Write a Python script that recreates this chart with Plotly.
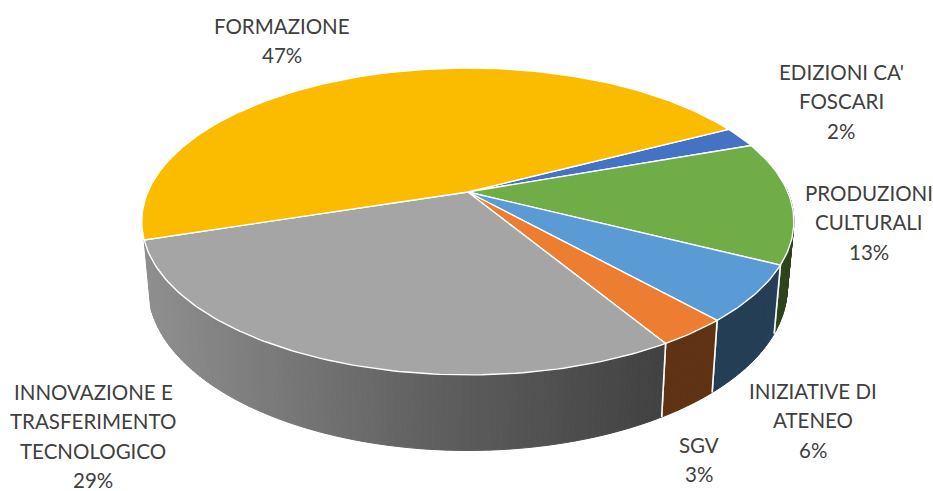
import math
import plotly.graph_objects as go

# ---- data ----
categories = ["EDIZIONI CA'", "PRODUZIONI CULTURALI", "INIZIATIVE DI ATENEO", "SGV",
              "INNOVAZIONE E TRASFERIMENTO TECNOLOGICO", "FORMAZIONE"]
values = [2.2, 12.9, 5.9, 3.0, 28.7, 47.3]
label_lines = [["EDIZIONI CA'", "FOSCARI"], ["PRODUZIONI", "CULTURALI"], ["INIZIATIVE DI", "ATENEO"],
               ["SGV"], ["INNOVAZIONE E", "TRASFERIMENTO", "TECNOLOGICO"], ["FORMAZIONE"]]
colors = ["#4472C4", "#70AD47", "#5B9BD5", "#ED7D31", "#A5A5A5", "#FBBC00"]

# ---- style / layout ----
label_anchor = [(841, 72), (869, 193), (813, 391), (699, 445), (93, 392), (282, 26)]
line_step = 29.3
START = -27.5
CX, CY = 467.8, 192.0
A, B, K = 147.8, 320.0, -0.192
S, C = 0.98, 64.0
TEXT = "#404040"
FONT = "Lato"
FSIZE = 20.5


def top(deg):
    t = math.radians(deg)
    u, v = math.cos(t), math.sin(t)
    w = 1 + K * v
    return CX + B * u / w, CY + A * v / w


def bottom(deg):
    t = math.radians(deg)
    u, v = math.cos(t), math.sin(t)
    w = 1 + K * v
    return CX + S * B * u / w, CY + S * A * v / w + C / w


def shade(x):
    pts = [(150, 0.86), (430, 0.58), (660, 0.40)]
    if x <= pts[0][0]:
        return pts[0][1]
    if x >= pts[-1][0]:
        return pts[-1][1]
    for (x0, f0), (x1, f1) in zip(pts, pts[1:]):
        if x <= x1:
            return f0 + (f1 - f0) * (x - x0) / (x1 - x0)


def dim(hexc, f):
    r, g, b = (int(hexc[i:i + 2], 16) for i in (1, 3, 5))
    return f"rgb({round(r * f)},{round(g * f)},{round(b * f)})"


def poly(xs, ys, fill, line_color, line_width):
    return go.Scatter(x=xs, y=ys, mode="lines", fill="toself", fillcolor=fill,
                      line=dict(color=line_color, width=line_width), hoverinfo="skip", showlegend=False)


fig = go.Figure()
total = sum(values)
angles = [START]
for val in values:
    angles.append(angles[-1] + val / total * 360)

# side walls (only the front part can be seen; the rim ends where the grey slice ends)
for i, col in enumerate(colors):
    a0, a1 = angles[i], angles[i + 1]
    if a0 > 150:
        continue
    lo, hi = max(a0, -2), min(a1, 180)
    if hi <= lo:
        continue
    n = max(2, int((hi - lo) / 1.0))
    for j in range(n):
        p, q = lo + (hi - lo) * j / n, lo + (hi - lo) * (j + 1) / n
        tp, tq, bq, bp = top(p), top(q), bottom(q), bottom(p)
        c = dim(col, shade((tp[0] + tq[0]) / 2))
        fig.add_trace(poly([tp[0], tq[0], bq[0], bp[0], tp[0]], [tp[1], tq[1], bq[1], bp[1], tp[1]], c, c, 1))
    # white seam at the slice ends
    for ang in (a0, a1):
        if 0 <= ang <= 158:
            t, b = top(ang), bottom(ang)
            fig.add_trace(go.Scatter(x=[t[0], b[0]], y=[t[1], b[1]], mode="lines",
                                     line=dict(color="white", width=1.6), hoverinfo="skip", showlegend=False))

# top faces
for i, col in enumerate(colors):
    a0, a1 = angles[i], angles[i + 1]
    n = max(4, int((a1 - a0) / 1.0))
    xs, ys = [CX], [CY]
    for j in range(n + 1):
        x, y = top(a0 + (a1 - a0) * j / n)
        xs.append(x)
        ys.append(y)
    xs.append(CX)
    ys.append(CY)
    fig.add_trace(poly(xs, ys, col, "white", 1.4))

# labels
annotations = []
for i, lines in enumerate(label_lines):
    ax, ay = label_anchor[i]
    for k, t in enumerate(lines + [f"{round(values[i])}%"]):
        annotations.append(dict(x=ax, y=ay + k * line_step, text=t, showarrow=False, xanchor="center",
                                yanchor="middle", font=dict(family=FONT, size=FSIZE, color=TEXT)))

fig.update_layout(
    width=933, height=491, margin=dict(l=0, r=0, t=0, b=0),
    paper_bgcolor="white", plot_bgcolor="white", showlegend=False, annotations=annotations,
    xaxis=dict(range=[0, 933], visible=False, fixedrange=True),
    yaxis=dict(range=[491, 0], visible=False, fixedrange=True),
)
fig.write_html("out.html", config={"displayModeBar": False},
               post_script="document.body.style.margin='0';document.body.style.overflow='hidden';")
